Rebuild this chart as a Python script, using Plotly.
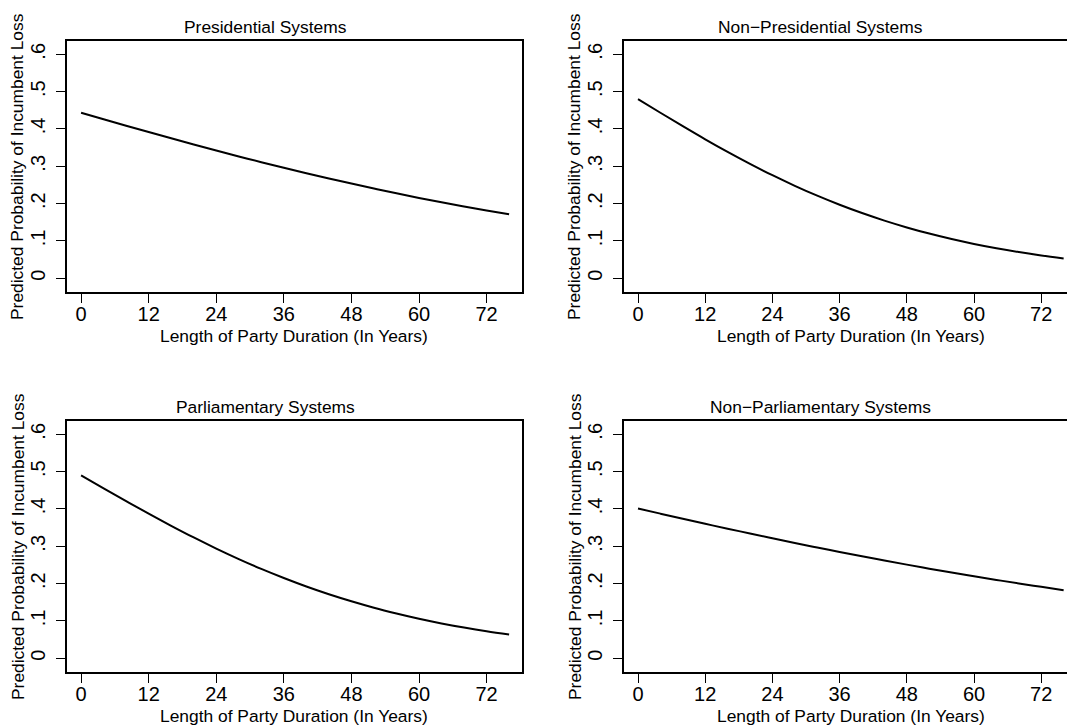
import plotly.graph_objects as go

# ---- data ----
years = [0, 4, 8, 12, 16, 20, 24, 28, 32, 36, 40, 44, 48, 52, 56, 60, 64, 68, 72, 76]

presidential = [0.4435, 0.4260, 0.4088, 0.3917, 0.3750, 0.3585, 0.3423, 0.3265, 0.3111, 0.2961,
                0.2815, 0.2674, 0.2537, 0.2405, 0.2276, 0.2153, 0.2036, 0.1923, 0.1816, 0.1713]
non_presidential = [0.4800, 0.4435, 0.4075, 0.3724, 0.3387, 0.3066, 0.2762, 0.2478, 0.2213, 0.1970,
                    0.1748, 0.1546, 0.1363, 0.1198, 0.1051, 0.0920, 0.0805, 0.0703, 0.0612, 0.0533]
parliamentary = [0.4903, 0.4554, 0.4212, 0.3875, 0.3550, 0.3237, 0.2939, 0.2658, 0.2394, 0.2150,
                 0.1923, 0.1715, 0.1527, 0.1354, 0.1200, 0.1059, 0.0934, 0.0823, 0.0723, 0.0635]
non_parliamentary = [0.4013, 0.3875, 0.3738, 0.3603, 0.3473, 0.3343, 0.3215, 0.3090, 0.2967, 0.2848,
                     0.2733, 0.2620, 0.2509, 0.2401, 0.2297, 0.2196, 0.2100, 0.2005, 0.1914, 0.1826]

panel_titles = ["Presidential Systems", "Non\u2212Presidential Systems",
                "Parliamentary Systems", "Non\u2212Parliamentary Systems"]
x_tickvals = [0, 12, 24, 36, 48, 60, 72]
x_ticktext = ["0", "12", "24", "36", "48", "60", "72"]
y_tickvals = [0, 0.1, 0.2, 0.3, 0.4, 0.5, 0.6]
y_ticktext = ["0", ".1", ".2", ".3", ".4", ".5", ".6"]
x_title = "Length of Party Duration (In Years)"
y_title = "Predicted Probability of Incumbent Loss"

series = [presidential, non_presidential, parliamentary, non_parliamentary]

# ---- layout geometry (pixels) ----
W, H = 1067, 725
FONT = "Liberation Sans, Arial, Helvetica, sans-serif"

def px_x(p):
    return p / W

def px_y(p):  # pixel from top -> paper from bottom
    return 1 - p / H

# panel boxes: (left, right, top, bottom) in px
boxes = [
    (67, 521.5, 40.7, 292.3),
    (624, 1067, 40.7, 292.3),
    (67, 521.5, 420.7, 672.3),
    (624, 1067, 420.7, 672.3),
]
x_ranges = [[-2.5, 78.2], [-2.5, 76.6], [-2.5, 78.2], [-2.5, 76.6]]
y_range = [-0.0375, 0.6365]

fig = go.Figure()
layout = dict(
    width=W, height=H,
    margin=dict(l=0, r=0, t=0, b=0),
    paper_bgcolor="white", plot_bgcolor="white",
    showlegend=False,
    font=dict(family=FONT, color="black"),
)

annotations = []
for i, (ys, box) in enumerate(zip(series, boxes)):
    n = "" if i == 0 else str(i + 1)
    fig.add_trace(go.Scatter(
        x=years, y=ys, mode="lines",
        line=dict(color="black", width=2, shape="spline"),
        xaxis="x" + n, yaxis="y" + n, hoverinfo="skip",
    ))
    left, right, top, bottom = box
    right_side = i % 2 == 1
    layout["xaxis" + n] = dict(
        domain=[px_x(left), px_x(right)], anchor="y" + n,
        range=x_ranges[i], showgrid=False, zeroline=False,
        showline=True, linecolor="black", linewidth=1.5, mirror=True,
        ticks="outside", ticklen=9, tickwidth=1, tickcolor="black",
        tickvals=x_tickvals, ticktext=x_ticktext,
        ticklabelstandoff=-6,
        tickfont=dict(size=20, family=FONT, color="black"),
    )
    layout["yaxis" + n] = dict(
        domain=[px_y(bottom), px_y(top)], anchor="x" + n,
        range=y_range, showgrid=False, zeroline=False,
        showline=True, linecolor="black", linewidth=1.5,
        mirror=(not right_side),
        ticks="outside", ticklen=9, tickwidth=1, tickcolor="black",
        tickvals=y_tickvals, ticktext=y_ticktext, tickangle=-90,
        ticklabelstandoff=3,
        tickfont=dict(size=20, family=FONT, color="black"),
    )
    # panel title
    tcx = 265 if not right_side else 820
    annotations.append(dict(
        text=panel_titles[i], xref="paper", yref="paper",
        x=px_x(tcx), y=px_y(top - 14), xanchor="center", yanchor="middle",
        showarrow=False, font=dict(size=17.4, family=FONT, color="black"),
    ))
    # x axis title
    xcx = (left + right) / 2 if not right_side else 851
    annotations.append(dict(
        text=x_title, xref="paper", yref="paper",
        x=px_x(xcx), y=px_y(bottom + 44), xanchor="center", yanchor="middle",
        showarrow=False, font=dict(size=17.4, family=FONT, color="black"),
    ))
    # y axis title
    annotations.append(dict(
        text=y_title, xref="paper", yref="paper", textangle=-90,
        x=px_x(left - 49.5), y=px_y((top + bottom) / 2), xanchor="center", yanchor="middle",
        showarrow=False, font=dict(size=17.4, family=FONT, color="black"),
    ))

layout["annotations"] = annotations
fig.update_layout(**layout)
fig.write_html("out.html")
